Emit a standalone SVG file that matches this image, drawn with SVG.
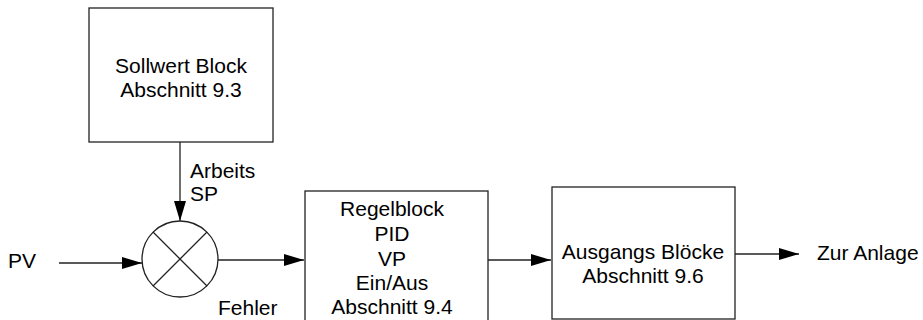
<svg xmlns="http://www.w3.org/2000/svg" width="923" height="320" viewBox="0 0 923 320">
<style>
.box{fill:#fff;stroke:#222;stroke-width:1.3}
.ln{fill:none;stroke:#222;stroke-width:1.3}
text{font-family:"Liberation Sans",Arial,sans-serif;font-size:21px;fill:#000}
.c{text-anchor:middle}
</style>
<defs>
<marker id="ah" viewBox="0 0 20 12" refX="20" refY="6" markerWidth="20" markerHeight="12" markerUnits="userSpaceOnUse" orient="auto">
<path d="M0,0 L20,6 L0,12 Z" fill="#000"/>
</marker>
</defs>
<g id="connectors">
<line class="ln" x1="180" y1="142" x2="180" y2="221" marker-end="url(#ah)"/>
<line class="ln" x1="59" y1="263" x2="142" y2="263" marker-end="url(#ah)"/>
<line class="ln" x1="218" y1="260" x2="304" y2="260" marker-end="url(#ah)"/>
<line class="ln" x1="488" y1="260" x2="551" y2="260" marker-end="url(#ah)"/>
<line class="ln" x1="735" y1="254" x2="799" y2="254" marker-end="url(#ah)"/>
</g>
<g id="sollwert">
<rect class="box" x="89" y="8" width="184" height="134"/>
<text class="c" x="181" y="73">Sollwert Block</text>
<text class="c" x="181" y="96.5">Abschnitt 9.3</text>
</g>
<g id="summer">
<circle class="ln" cx="180" cy="259" r="38"/>
<line class="ln" x1="153" y1="232" x2="207" y2="286"/>
<line class="ln" x1="207" y1="232" x2="153" y2="286"/>
</g>
<g id="regelblock">
<rect class="box" x="305" y="191" width="183" height="140"/>
<text class="c" x="392" y="216">Regelblock</text>
<text class="c" x="392" y="241">PID</text>
<text class="c" x="392" y="265.5">VP</text>
<text class="c" x="392" y="290">Ein/Aus</text>
<text class="c" x="392" y="314">Abschnitt 9.4</text>
</g>
<g id="ausgang">
<rect class="box" x="552" y="187" width="183" height="132"/>
<text class="c" x="643" y="258.5">Ausgangs Blöcke</text>
<text class="c" x="643" y="283">Abschnitt 9.6</text>
</g>
<g id="labels">
<text x="8" y="268">PV</text>
<text x="190" y="178">Arbeits</text>
<text x="190" y="201">SP</text>
<text x="218" y="315">Fehler</text>
<text x="817" y="260">Zur Anlage</text>
</g>
</svg>
